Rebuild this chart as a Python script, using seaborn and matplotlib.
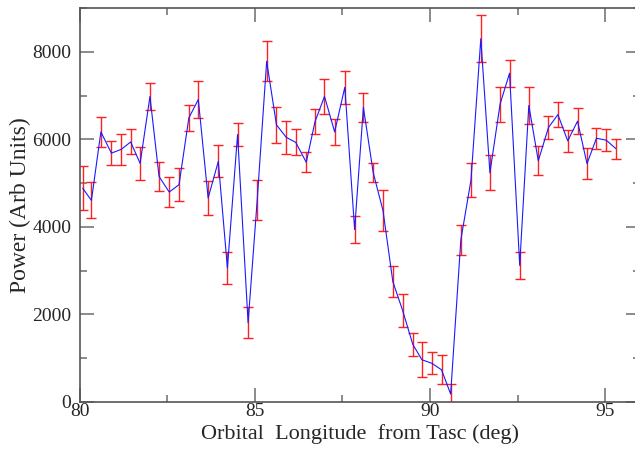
import numpy as np
import pandas as pd
import seaborn as sns
import matplotlib.pyplot as plt
from matplotlib.ticker import MultipleLocator

# orbital longitude (deg), power (arb units) and 1-sigma errors
longitude = [80.09, 80.34, 80.61, 80.91, 81.19, 81.46, 81.73, 82.01, 82.27, 82.56,
             82.84, 83.12, 83.39, 83.67, 83.96, 84.22, 84.51, 84.81, 85.07, 85.34,
             85.62, 85.90, 86.17, 86.47, 86.72, 86.99, 87.28, 87.57, 87.85, 88.10,
             88.38, 88.66, 88.94, 89.22, 89.51, 89.77, 90.05, 90.33, 90.59, 90.88,
             91.17, 91.45, 91.71, 92.00, 92.27, 92.56, 92.82, 93.09, 93.38, 93.65,
             93.93, 94.21, 94.48, 94.75, 95.03, 95.30]
power = [4885, 4605, 6170, 5685, 5770, 5940, 5450, 6980, 5150, 4795,
         4965, 6490, 6910, 4660, 5495, 3060, 6110, 1810, 4610, 7785,
         6330, 6045, 5930, 5475, 6405, 6980, 6170, 7190, 3940, 6730,
         5240, 4370, 2750, 2090, 1315, 965, 885, 735, 180, 3700,
         5070, 8300, 5235, 6805, 7510, 3120, 6775, 5510, 6270, 6565,
         5965, 6415, 5445, 6025, 5980, 5790]
power_err = [500, 410, 340, 275, 360, 285, 380, 315, 325, 335,
             385, 300, 425, 380, 365, 358, 266, 354, 460, 450,
             410, 370, 297, 225, 293, 390, 290, 372, 312, 330,
             224, 470, 354, 380, 266, 400, 250, 330, 230, 350,
             388, 530, 396, 400, 312, 300, 419, 335, 266, 278,
             243, 290, 361, 235, 248, 228]

df = pd.DataFrame({'longitude': longitude, 'power': power, 'err': power_err})

sns.set_style("ticks")
plt.rcParams['font.family'] = ['Liberation Serif', 'DejaVu Serif']

fig = plt.figure(figsize=(6.35, 4.5), dpi=100)
ax = fig.add_axes([0.1252, 0.1067, 0.8831, 0.8755])

ax.errorbar(df['longitude'], df['power'], yerr=df['err'], fmt='none',
            ecolor='#ff2020', elinewidth=1.0, capsize=3.6, capthick=1.0, zorder=2)
sns.lineplot(data=df, x='longitude', y='power', color='#1a1aff', linewidth=0.8,
             ax=ax, zorder=3)

ax.set_xlim(80, 96)
ax.set_ylim(0, 9000)
ax.xaxis.set_major_locator(MultipleLocator(5))
ax.xaxis.set_minor_locator(MultipleLocator(2.5))
ax.yaxis.set_major_locator(MultipleLocator(2000))
ax.yaxis.set_minor_locator(MultipleLocator(1000))

for s in ax.spines.values():
    s.set_visible(True)
    s.set_color('#555555')
    s.set_linewidth(1.2)
ax.tick_params(which='both', direction='in', top=True, right=True,
               color='#777777', width=1.2, labelsize=14)
ax.tick_params(which='major', length=10)
ax.tick_params(which='minor', length=5)
ax.tick_params(axis='x', pad=1)
ax.tick_params(axis='y', pad=6)

ax.set_xlabel('Orbital  Longitude  from Tasc (deg)', fontsize=16, labelpad=3)
ax.set_ylabel('Power (Arb Units)', fontsize=17, labelpad=1)

fig.savefig('out.png', dpi=100)
